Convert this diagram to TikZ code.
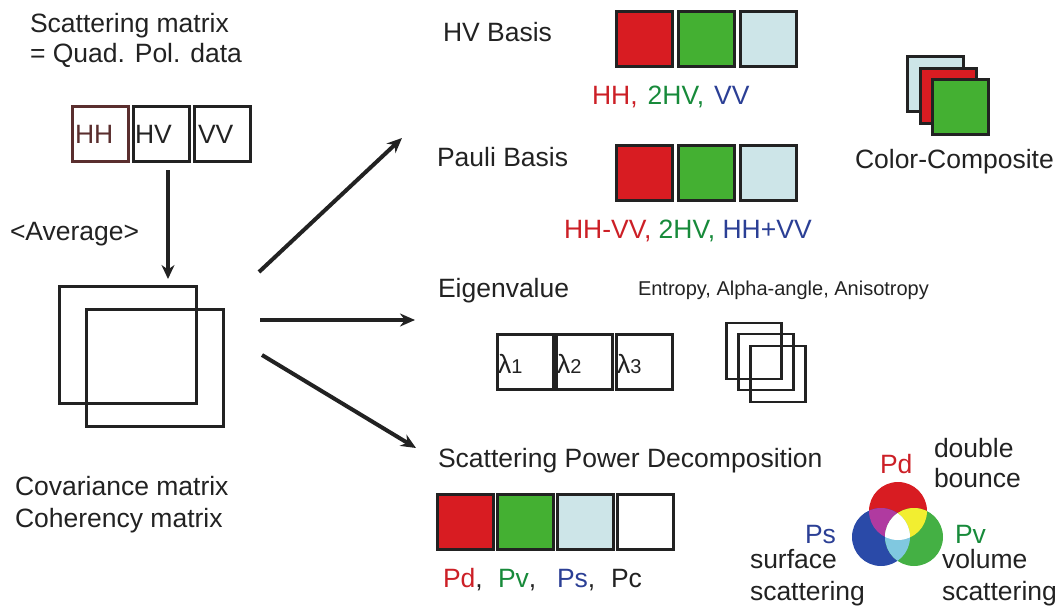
\documentclass[tikz,border=0pt]{standalone}
\usepackage{fontspec}
\setmainfont{Liberation Sans}
\usetikzlibrary{arrows.meta}
\definecolor{cred}{HTML}{D81C22}
\definecolor{cgreen}{HTML}{44B032}
\definecolor{clblue}{HTML}{CDE5E8}
\definecolor{tred}{HTML}{CC1F26}
\definecolor{tgreen}{HTML}{178A3A}
\definecolor{tblue}{HTML}{2B3F95}
\definecolor{tdark}{HTML}{222222}
\definecolor{hhbrown}{HTML}{5A2E2E}
\definecolor{vblue}{HTML}{2A4AA8}
\definecolor{vgreen}{HTML}{44B044}
\definecolor{vmag}{HTML}{B03AA0}
\definecolor{vyel}{HTML}{F2EE30}
\definecolor{vcyan}{HTML}{80C8E0}
\tikzset{
  sq/.style={draw=tdark, line width=3pt, inner sep=0pt, outer sep=0pt, minimum width=56pt, minimum height=55pt},
  thinsq/.style={draw=tdark, line width=2.4pt, inner sep=0pt, outer sep=0pt, minimum width=55pt, minimum height=56pt},
  bigsq/.style={draw=tdark, line width=3pt, inner sep=0pt, outer sep=0pt, minimum width=137pt, minimum height=117pt},
  txt/.style={inner sep=0pt, outer sep=0pt, anchor=base west, text=tdark, font=\fontsize{26.5}{30}\selectfont},
  stxt/.style={inner sep=0pt, outer sep=0pt, anchor=base west, text=tdark, font=\fontsize{20}{24}\selectfont},
  arr/.style={draw=tdark, line width=4pt, -{Stealth[length=15pt,width=13pt]}},
  arrv/.style={draw=tdark, line width=4pt, -{Stealth[length=14pt,width=13pt]}},
}
\begin{document}
\begin{tikzpicture}[x=1pt,y=-1pt]
\useasboundingbox (0,0) rectangle (1060,607);
% left column
\node[txt] (t1) at (30,33) {Scattering matrix};
\node[txt] (t2) at (30,63) {= Quad. Pol. data};
\node[sq, draw=hhbrown] (hh) at (100,134) {};
\node[sq] (hv) at (161,134) {};
\node[sq] (vv) at (222,134) {};
\node[txt, anchor=west, text=hhbrown] (hht) at ([xshift=3pt]hh.west) {HH};
\node[txt, anchor=west] (hvt) at ([xshift=2pt]hv.west) {HV};
\node[txt, anchor=west] (vvt) at ([xshift=4pt]vv.west) {VV};
\node[txt] (avg) at (10,240) {<Average>};
\node[bigsq] (cov1) at (128,345) {};
\node[bigsq] (cov2) at (155,368) {};
\node[txt] (cv) at (15,495) {Covariance matrix};
\node[txt] (ch) at (15,527) {Coherency matrix};
\coordinate (dstart) at (168,170);
\coordinate (dend) at (168,279);
\draw[arrv] (dstart) -- (dend);
% arrows to right
\coordinate (a1s) at (259,272);
\coordinate (a1e) at (402,138);
\coordinate (a2s) at (260,320);
\coordinate (a2e) at (415,320);
\coordinate (a3s) at (262,355);
\coordinate (a3e) at (416,448);
\draw[arr] (a1s) -- (a1e);
\draw[arr] (a2s) -- (a2e);
\draw[arr] (a3s) -- (a3e);
% HV basis
\node[txt] (hvb) at (443,42) {HV Basis};
\node[sq, fill=cred] (hv1) at (644,39) {};
\node[sq, fill=cgreen] (hv2) at (706,39) {};
\node[sq, fill=clblue] (hv3) at (768,39) {};
\node[txt] (hvl) at (592,105) {\textcolor{tred}{HH,}\hspace{10pt}\textcolor{tgreen}{2HV,}\hspace{10pt}\textcolor{tblue}{VV}};
% Pauli
\node[txt] (pb) at (437,167) {Pauli Basis};
\node[sq, fill=cred] (p1) at (644,173) {};
\node[sq, fill=cgreen] (p2) at (706,173) {};
\node[sq, fill=clblue] (p3) at (768,173) {};
\node[txt] (pl) at (564,238) {\textcolor{tred}{HH-VV,} \textcolor{tgreen}{2HV,} \textcolor{tblue}{HH+VV}};
% color composite
\node[sq, fill=clblue] (cc1) at (935,84) {};
\node[sq, fill=cred] (cc2) at (948,96) {};
\node[sq, fill=cgreen] (cc3) at (960,107) {};
\node[txt] (cct) at (855,168) {Color-Composite};
% eigen
\node[txt] (eig) at (438,297) {Eigenvalue};
\node[stxt] (ent) at (638,295) {Entropy, Alpha-angle, Anisotropy};
\node[sq] (l1) at (525,362) {};
\node[sq] (l2) at (584,362) {};
\node[sq] (l3) at (644,362) {};
\node[txt, anchor=west] (l1t) at ([xshift=1pt,yshift=-2pt]l1.west) {λ\fontsize{20}{22}\selectfont 1};
\node[txt, anchor=west] (l2t) at ([xshift=1pt,yshift=-2pt]l2.west) {λ\fontsize{20}{22}\selectfont 2};
\node[txt, anchor=west] (l3t) at ([xshift=1pt,yshift=-2pt]l3.west) {λ\fontsize{20}{22}\selectfont 3};
\node[thinsq] (e1) at (754,351) {};
\node[thinsq] (e2) at (766,362) {};
\node[thinsq] (e3) at (778,374) {};
% SPD
\node[txt] (spd) at (438,467) {Scattering Power Decomposition};
\node[sq, fill=cred] (s1) at (465,522) {};
\node[sq, fill=cgreen] (s2) at (525,522) {};
\node[sq, fill=clblue] (s3) at (585,522) {};
\node[sq, fill=white] (s4) at (645,522) {};
\node[txt] (sl1) at (443,587) {\textcolor{tred}{Pd}\textcolor{tdark}{,}};
\node[txt] (sl2) at (498,587) {\textcolor{tgreen}{Pv}\textcolor{tdark}{,}};
\node[txt] (sl3) at (557,587) {\textcolor{tblue}{Ps}\textcolor{tdark}{,}};
\node[txt] (sl4) at (611,587) {Pc};
% venn
\def\rr{29}
\coordinate (cr) at (898,511);
\coordinate (cb) at (881,537);
\coordinate (cg) at (914,537);
\fill[cred] (cr) circle (\rr);
\fill[vblue] (cb) circle (\rr);
\fill[vgreen] (cg) circle (\rr);
\begin{scope}\clip (cr) circle (\rr); \fill[vmag] (cb) circle (\rr); \end{scope}
\begin{scope}\clip (cr) circle (\rr); \fill[vyel] (cg) circle (\rr); \end{scope}
\begin{scope}\clip (cb) circle (\rr); \fill[vcyan] (cg) circle (\rr); \end{scope}
\begin{scope}\clip (cr) circle (\rr); \clip (cb) circle (\rr); \fill[white] (cg) circle (\rr); \end{scope}
\node[txt, text=tred] (vpd) at (880,473) {Pd};
\node[txt] (vdb1) at (934,457) {double};
\node[txt] (vdb2) at (934,487) {bounce};
\node[txt, text=tblue] (vps) at (805,543) {Ps};
\node[txt] (vsf1) at (750,568) {surface};
\node[txt] (vsf2) at (750,600) {scattering};
\node[txt, text=tgreen] (vpv) at (955,543) {Pv};
\node[txt] (vvo1) at (942,568) {volume};
\node[txt] (vvo2) at (942,600) {scattering};
\end{tikzpicture}
\end{document}
